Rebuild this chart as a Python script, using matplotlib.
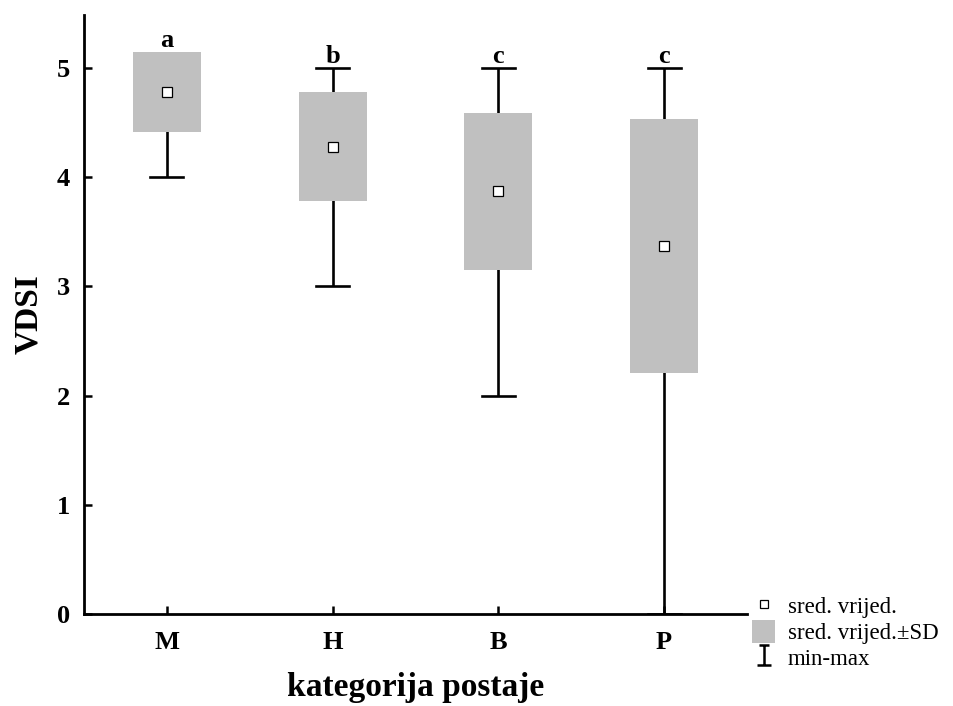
import matplotlib
matplotlib.use("Agg")
import matplotlib.pyplot as plt
from matplotlib.lines import Line2D
from matplotlib.patches import Patch, Rectangle
from matplotlib.path import Path

categories = ["M", "H", "B", "P"]
means = [4.78, 4.28, 3.87, 3.37]
sds = [0.37, 0.50, 0.72, 1.16]
mins = [4, 3, 2, 0]
maxs = [5, 5, 5, 5]
letters = ["a", "b", "c", "c"]

plt.rcParams['font.family'] = ['Liberation Serif', 'DejaVu Serif']

fig = plt.figure(figsize=(9.54, 7.06), dpi=100)
ax = fig.add_axes([0.088, 0.1303, 0.695, 0.8485])

gray = "#c0c0c0"
box_w = 0.41
cap_w = 0.20
for i, (m, s, lo, hi, let) in enumerate(zip(means, sds, mins, maxs, letters)):
    ax.plot([i, i], [lo, hi], color="black", lw=1.9, zorder=1, solid_capstyle="butt")
    ax.plot([i - cap_w / 2, i + cap_w / 2], [lo, lo], color="black", lw=1.9, zorder=1)
    ax.plot([i - cap_w / 2, i + cap_w / 2], [hi, hi], color="black", lw=1.9, zorder=1)
    ax.add_patch(Rectangle((i - box_w / 2, m - s), box_w, 2 * s, facecolor=gray,
                           edgecolor="none", zorder=2))
    ax.plot([i], [m], marker="s", ms=7, mfc="white", mec="black", mew=0.9,
            ls="none", zorder=3)
    top = max(m + s, hi)
    ax.text(i, top + 0.0, let, ha="center", va="bottom", fontsize=19,
            fontweight="bold")

ax.set_xlim(-0.5, 3.5)
ax.set_ylim(0, 5.485)
ax.set_xticks(range(len(categories)))
ax.set_xticklabels(categories)
ax.set_yticks(range(0, 6))
for sp in ["top", "right"]:
    ax.spines[sp].set_visible(False)
for sp in ["left", "bottom"]:
    ax.spines[sp].set_linewidth(2.0)
ax.tick_params(direction="in", length=6, width=1.8, labelsize=19, pad=12)
for lab in ax.get_xticklabels() + ax.get_yticklabels():
    lab.set_fontweight("bold")
ax.tick_params(axis="y", pad=10)
ax.set_ylabel("VDSI", fontsize=24, fontweight="bold", labelpad=9)
ax.set_xlabel("kategorija postaje", fontsize=24, fontweight="bold", labelpad=13)

ipath = Path([(-0.5, 1), (0.5, 1), (0, 1), (0, -1), (-0.7, -1), (0.7, -1)],
             [Path.MOVETO, Path.LINETO, Path.MOVETO, Path.LINETO, Path.MOVETO, Path.LINETO])
handles = [
    Line2D([], [], marker="s", ms=6, mfc="white", mec="black", mew=0.9, ls="none"),
    Patch(facecolor=gray, edgecolor="none"),
    Line2D([], [], marker=ipath, ms=15, mec="black", mew=1.8, ls="none"),
]
labels = ["sred. vrijed.", "sred. vrijed.\u00b1SD", "min-max"]
fig.legend(handles, labels, loc="lower left", bbox_to_anchor=(0.779, 0.038),
           frameon=False, fontsize=16.5, handlelength=1.0, handletextpad=0.55,
           handleheight=1.15, labelspacing=0.08, borderaxespad=0)

fig.savefig("out.png", dpi=100)
